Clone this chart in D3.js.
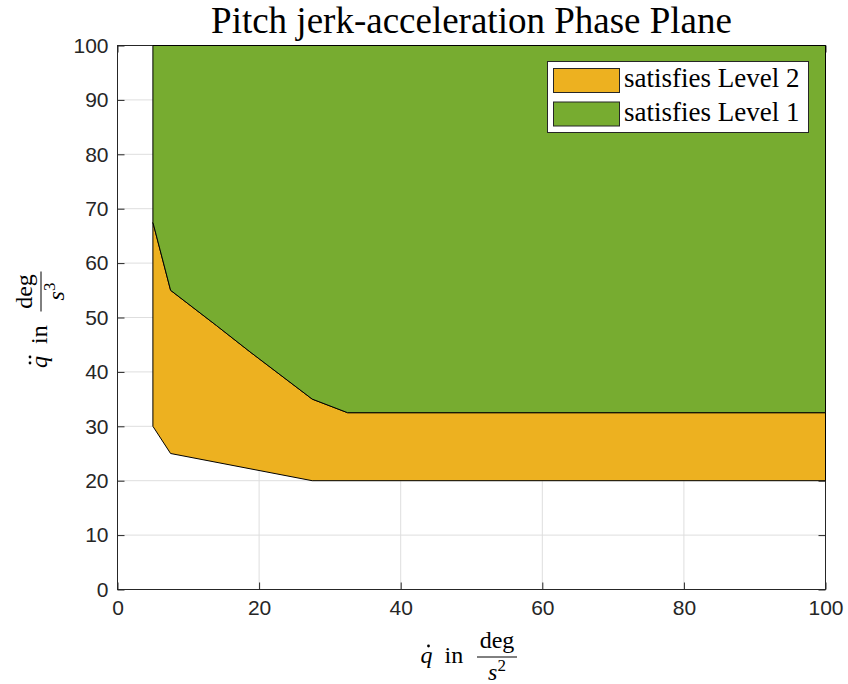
<!DOCTYPE html>
<html>
<head>
<meta charset="utf-8">
<script src="https://cdn.jsdelivr.net/npm/d3@7"></script>
<style>
  body { margin: 0; background: #fff; }
  svg { display: block; }
</style>
</head>
<body>
<svg id="chart" width="848" height="684"></svg>
<script>
// Tick values
const xTicks = [0, 20, 40, 60, 80, 100];
const yTicks = [0, 10, 20, 30, 40, 50, 60, 70, 80, 90, 100];

// Level 1 region boundary (pitch rate vs. pitch acceleration)
const level1Rate  = [5, 5, 7.5, 14, 18.7, 27.5, 32.5, 100, 100];
const level1Accel = [100, 67.5, 55, 48.5, 43.7, 35, 32.5, 32.5, 100];

// Level 2 region boundary
const level2Rate  = [5, 5, 7.5, 27.5, 100, 100, 32.5, 27.5, 18.7, 14, 7.5, 5];
const level2Accel = [67.5, 30, 25, 20, 20, 32.5, 32.5, 35, 43.7, 48.5, 55, 67.5];

const seriesNames  = ["satisfies Level 2", "satisfies Level 1"];
const seriesColors = ["#EDB120", "#77AC30"];

const svg = d3.select("#chart");
const axisColor = "#262626";
const serif = "'Liberation Serif', 'Times New Roman', serif";
const sans = "'Liberation Sans', Arial, Helvetica, sans-serif";

const x = d3.scaleLinear().domain([0, 100]).range([117.5, 825.5]);
const y = d3.scaleLinear().domain([0, 100]).range([589.5, 45.5]);
const [x0, x1] = x.range();
const [y0, y1] = y.range();

// Grid
const grid = svg.append("g").attr("stroke", "#dedede").attr("stroke-width", 1);
grid.selectAll(".gx").data(xTicks).join("line")
  .attr("x1", d => x(d)).attr("x2", d => x(d)).attr("y1", y0).attr("y2", y1);
grid.selectAll(".gy").data(yTicks).join("line")
  .attr("y1", d => y(d)).attr("y2", d => y(d)).attr("x1", x0).attr("x2", x1);

// Axes with inward ticks
function styleAxis(g, fontSize) {
  g.select(".domain").remove();
  g.selectAll(".tick line").attr("stroke", axisColor);
  g.selectAll(".tick text").attr("fill", axisColor)
    .style("font-family", sans).style("font-size", fontSize + "px");
}
svg.append("g").attr("transform", `translate(0,${y0})`)
  .call(d3.axisBottom(x).tickValues(xTicks).tickSizeInner(-7).tickSizeOuter(0).tickPadding(11))
  .call(g => styleAxis(g, 21));
svg.append("g").attr("transform", `translate(${x0},0)`)
  .call(d3.axisLeft(y).tickValues(yTicks).tickSizeInner(-7).tickSizeOuter(0).tickPadding(9))
  .call(g => styleAxis(g, 21));
svg.append("g").attr("transform", `translate(0,${y1})`)
  .call(d3.axisTop(x).tickValues(xTicks).tickSizeInner(-7).tickSizeOuter(0).tickFormat(""))
  .call(g => styleAxis(g, 21));
svg.append("g").attr("transform", `translate(${x1},0)`)
  .call(d3.axisRight(y).tickValues(yTicks).tickSizeInner(-7).tickSizeOuter(0).tickFormat(""))
  .call(g => styleAxis(g, 21));

// Axes box
svg.append("rect")
  .attr("x", x0).attr("y", y1).attr("width", x1 - x0).attr("height", y0 - y1)
  .attr("fill", "none").attr("stroke", axisColor).attr("stroke-width", 1);

// Regions
const line = d3.line().x(d => x(d[0])).y(d => y(d[1]));
const regions = [
  d3.zip(level2Rate, level2Accel),
  d3.zip(level1Rate, level1Accel)
];
svg.append("g").selectAll("path").data(regions).join("path")
  .attr("d", d => line(d) + "Z")
  .attr("fill", (d, i) => seriesColors[i])
  .attr("stroke", "#000").attr("stroke-width", 1).attr("stroke-linejoin", "miter");

// Title
svg.append("text")
  .attr("x", (x0 + x1) / 2).attr("y", 33)
  .attr("text-anchor", "middle")
  .style("font-family", serif).style("font-size", "37px").attr("fill", "#000")
  .text("Pitch jerk-acceleration Phase Plane");

// Math-style axis label: dotted q, "in", and a deg / s^n fraction
function mathLabel(g, dots, power) {
  const fs = 24;
  const t = g.append("g").style("font-family", serif).attr("fill", "#000");
  t.append("text").attr("x", -51).attr("y", 0)
    .style("font-size", fs + "px").style("font-style", "italic").text("q");
  const dotX = dots === 1 ? [-43] : [-46, -40];
  t.selectAll("circle").data(dotX).join("circle")
    .attr("cx", d => d).attr("cy", -17).attr("r", 1.4).attr("fill", "#000");
  t.append("text").attr("x", -27).attr("y", 0)
    .style("font-size", fs + "px").text("in");
  t.append("line").attr("x1", 5.5).attr("x2", 45.5).attr("y1", -6).attr("y2", -6)
    .attr("stroke", "#000").attr("stroke-width", 1);
  t.append("text").attr("x", 25.5).attr("y", -15).attr("text-anchor", "middle")
    .style("font-size", fs + "px").text("deg");
  const den = t.append("text").attr("x", 25.5).attr("y", 17).attr("text-anchor", "middle")
    .style("font-size", fs + "px");
  den.append("tspan").style("font-style", "italic").text("s");
  den.append("tspan").attr("dy", -9).style("font-size", "17px").text(power);
}
mathLabel(svg.append("g").attr("transform", "translate(471.5,663)"), 1, "2");
mathLabel(svg.append("g").attr("transform", "translate(47,317) rotate(-90)"), 2, "3");

// Legend
const legend = svg.append("g");
legend.append("rect")
  .attr("x", 547.5).attr("y", 61.5).attr("width", 261).attr("height", 71)
  .attr("fill", "#fff").attr("stroke", axisColor).attr("stroke-width", 1);
const items = legend.selectAll(".item").data(seriesNames).join("g")
  .attr("transform", (d, i) => `translate(0,${i * 33.5})`);
items.append("rect")
  .attr("x", 553.5).attr("y", 68.5).attr("width", 66).attr("height", 24)
  .attr("fill", (d, i) => seriesColors[i]).attr("stroke", "#262626").attr("stroke-width", 1);
items.append("text")
  .attr("x", 624).attr("y", 87)
  .style("font-family", serif).style("font-size", "27px").attr("fill", "#000")
  .text(d => d);
</script>
</body>
</html>
